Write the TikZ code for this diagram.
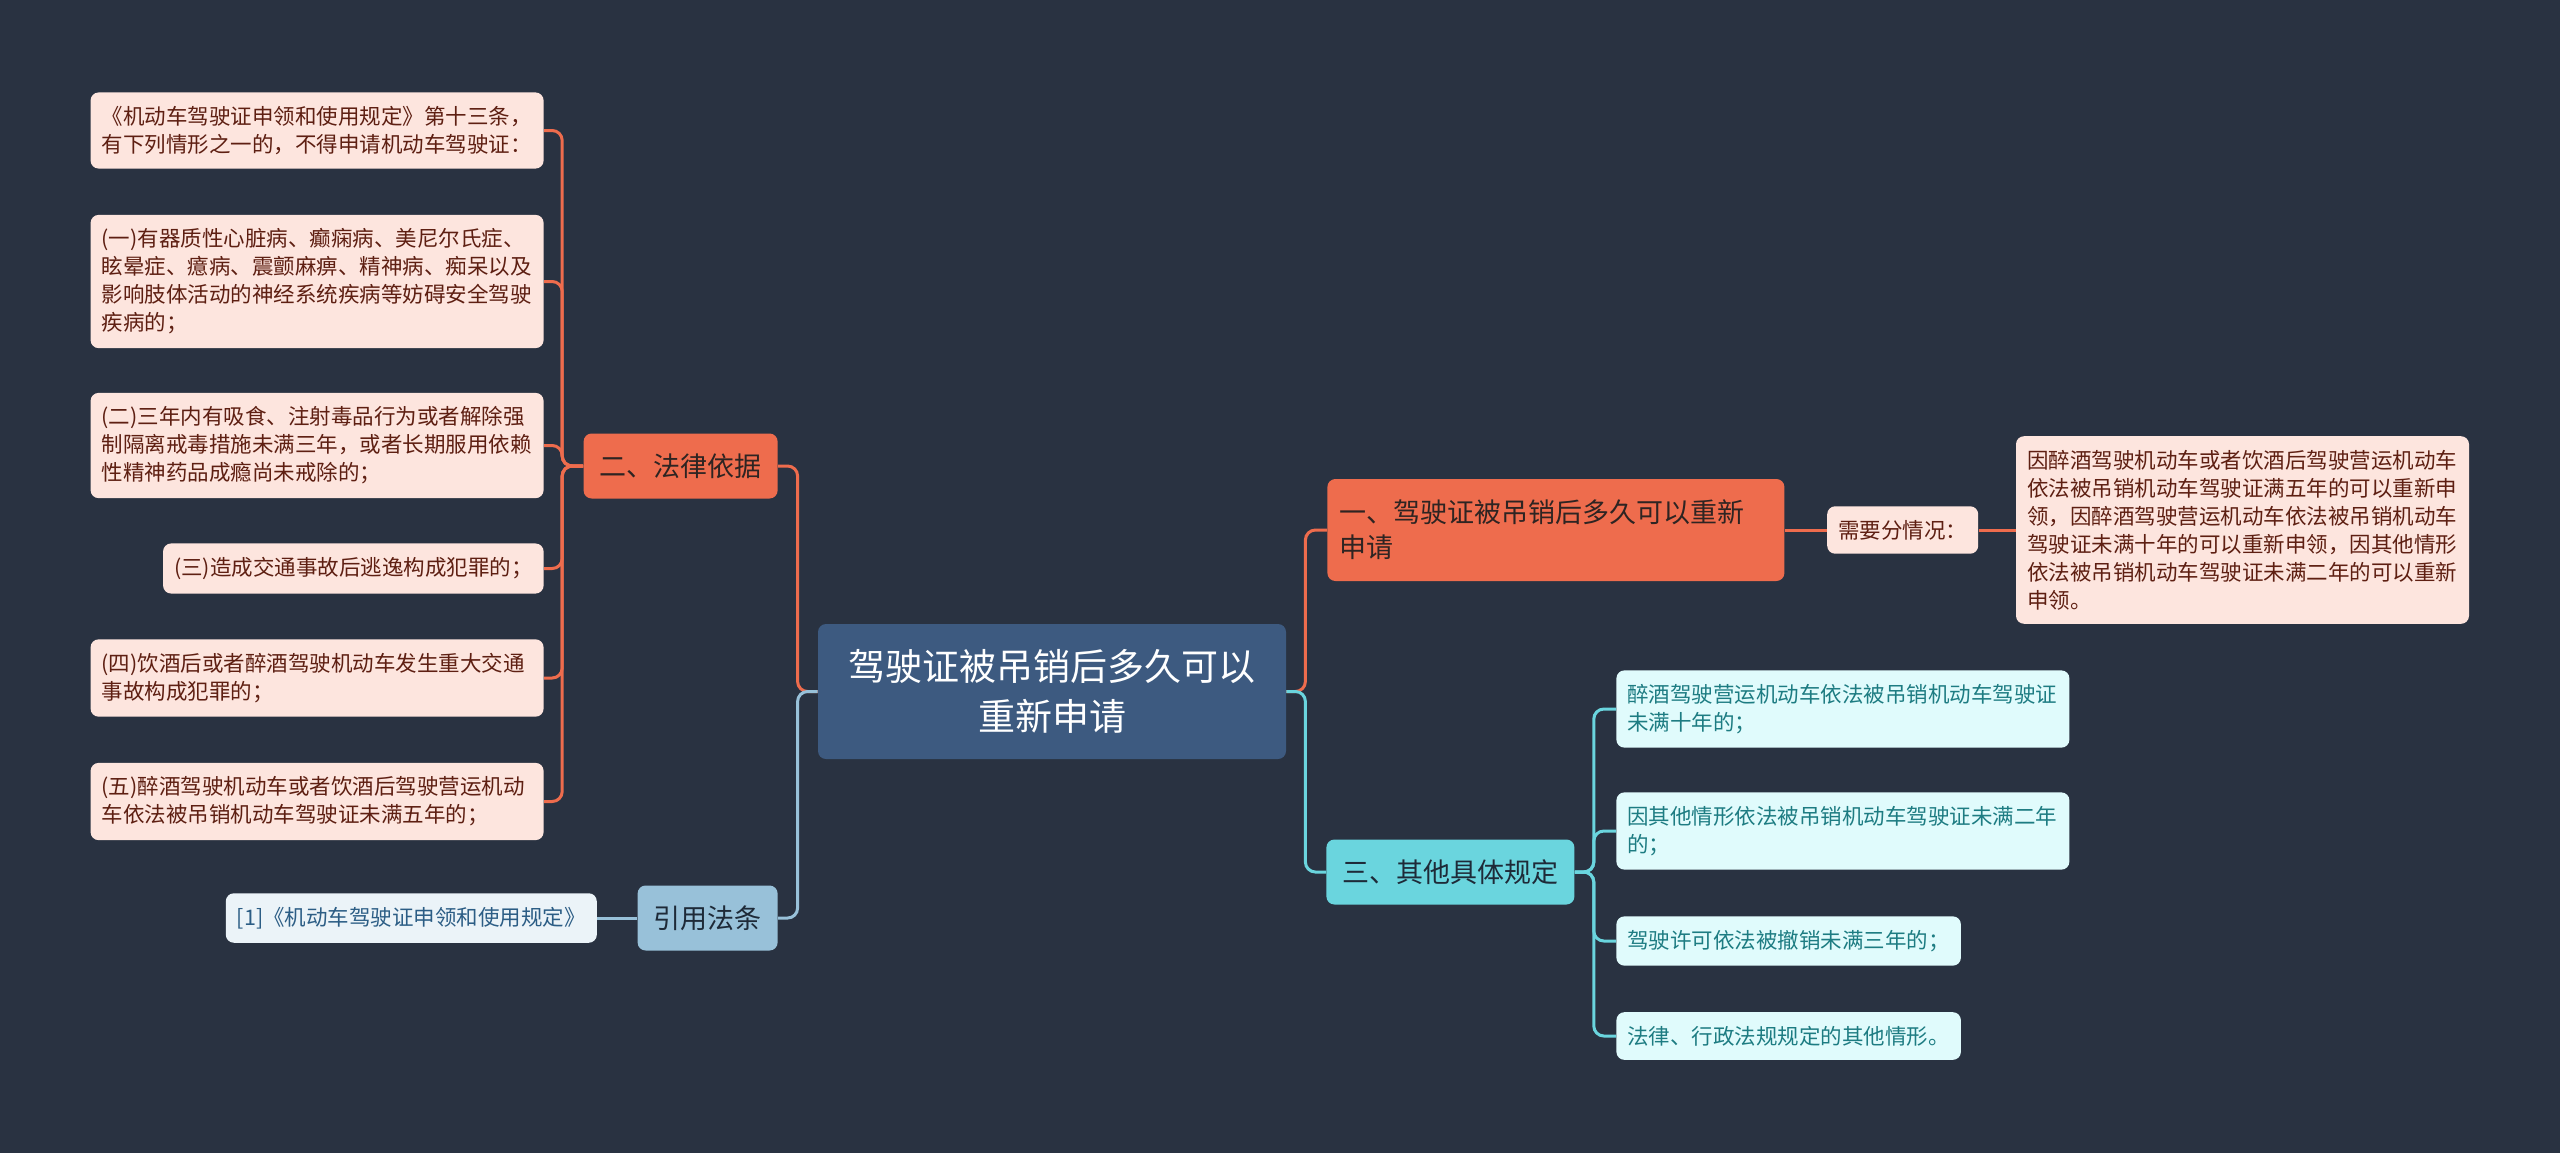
\documentclass[tikz,border=0pt]{standalone}
\usepackage{fontspec}
\setmainfont{Noto Sans CJK SC}
\usetikzlibrary{positioning}

\definecolor{BgNavy}{HTML}{293241}
\definecolor{RootBlue}{HTML}{3D5A80}
\definecolor{BranchOrange}{HTML}{EE6C4D}
\definecolor{BranchSky}{HTML}{98C1D9}
\definecolor{BranchCyan}{HTML}{6AD5DE}
\definecolor{LeafPink}{HTML}{FDE5DE}
\definecolor{LeafCyan}{HTML}{E0FBFC}
\definecolor{LeafSky}{HTML}{EBF3F8}
\definecolor{TextBrown}{HTML}{5E1F12}
\definecolor{TextTeal}{HTML}{1D7C82}
\definecolor{TextSky}{HTML}{2C5D85}
\definecolor{TextDark}{HTML}{2E2422}
\definecolor{TextNavy}{HTML}{1E2A38}

\begin{document}
\begin{tikzpicture}[x=0.5pt, y=-0.5pt,
                    ROOT/.style={rectangle, rounded corners=4pt, fill=RootBlue, text=white, minimum width=234pt, minimum height=67.5pt, align=center, font=\fontsize{18.5}{25}\selectfont},
                    TOPIC/.style={rectangle, rounded corners=4pt, inner xsep=8pt, minimum height=32.5pt, font=\fontsize{13.5}{17.5}\selectfont},
                    NOTE/.style={rectangle, rounded corners=4pt, inner xsep=5.5pt, inner ysep=6.9pt, align=left, font=\fontsize{10.75}{14}\selectfont},
                    WIDE/.style={text width=215.5pt},
                    HOTNOTE/.style={NOTE, fill=LeafPink, text=TextBrown},
                    COOLNOTE/.style={NOTE, fill=LeafCyan, text=TextTeal},
                    SKYNOTE/.style={NOTE, fill=LeafSky, text=TextSky},
                    HOTLINK/.style={draw=BranchOrange, line width=1.5pt, rounded corners=5pt},
                    COOLLINK/.style={draw=BranchCyan, line width=1.5pt, rounded corners=5pt},
                    SKYLINK/.style={draw=BranchSky, line width=1.5pt, rounded corners=5pt},
                ]
                \fill[BgNavy] (0,0) rectangle (2560,1153);

                \node[ROOT]    (Licence_Root)    at (1052,691.5) {驾驶证被吊销后多久可以\\重新申请};

                % left side
                \node[TOPIC, fill=BranchOrange, text=TextDark, anchor=east]    (Legal_Basis)    at (778,466) {二、法律依据};
                \node[TOPIC, fill=BranchSky, text=TextNavy, anchor=east]    (Cited_Law)    at (778,918) {引用法条};
                \node[SKYNOTE]    (Cited_Ref)    [left=20pt of Cited_Law] {[1]《机动车驾驶证申领和使用规定》};

                \node[HOTNOTE, WIDE, anchor=east]    (Basis_Intro)    at (544,130.5) {《机动车驾驶证申领和使用规定》第十三条，\\有下列情形之一的，不得申请机动车驾驶证：};
                \node[HOTNOTE, WIDE, anchor=east]    (Basis_1)    at (544,281.5) {(一)有器质性心脏病、癫痫病、美尼尔氏症、\\眩晕症、癔病、震颤麻痹、精神病、痴呆以及\\影响肢体活动的神经系统疾病等妨碍安全驾驶\\疾病的；};
                \node[HOTNOTE, WIDE, anchor=east]    (Basis_2)    at (544,445.5) {(二)三年内有吸食、注射毒品行为或者解除强\\制隔离戒毒措施未满三年，或者长期服用依赖\\性精神药品成瘾尚未戒除的；};
                \node[HOTNOTE, anchor=east]    (Basis_3)    at (544,568.5) {(三)造成交通事故后逃逸构成犯罪的；};
                \node[HOTNOTE, WIDE, anchor=east]    (Basis_4)    at (544,678) {(四)饮酒后或者醉酒驾驶机动车发生重大交通\\事故构成犯罪的；};
                \node[HOTNOTE, WIDE, anchor=east]    (Basis_5)    at (544,801.5) {(五)醉酒驾驶机动车或者饮酒后驾驶营运机动\\车依法被吊销机动车驾驶证未满五年的；};

                % right side
                \node[TOPIC, fill=BranchOrange, text=TextDark, anchor=west, text width=216.5pt, inner xsep=6pt, minimum height=51pt, align=left]    (Reapply_Time)    at (1327,530) {一、驾驶证被吊销后多久可以重新\\申请};
                \node[HOTNOTE]    (Case_Split)    [right=21pt of Reapply_Time] {需要分情况：};
                \node[HOTNOTE, WIDE]    (Case_Detail)    [right=18.5pt of Case_Split] {因醉酒驾驶机动车或者饮酒后驾驶营运机动车\\依法被吊销机动车驾驶证满五年的可以重新申\\领，因醉酒驾驶营运机动车依法被吊销机动车\\驾驶证未满十年的可以重新申领，因其他情形\\依法被吊销机动车驾驶证未满二年的可以重新\\申领。};

                \node[TOPIC, fill=BranchCyan, text=TextNavy, anchor=west]    (Other_Rules)    at (1326,872) {三、其他具体规定};
                \node[COOLNOTE, WIDE, anchor=west]    (Other_1)    at (1616,709) {醉酒驾驶营运机动车依法被吊销机动车驾驶证\\未满十年的；};
                \node[COOLNOTE, WIDE, anchor=west]    (Other_2)    at (1616,831) {因其他情形依法被吊销机动车驾驶证未满二年\\的；};
                \node[COOLNOTE, anchor=west]    (Other_3)    at (1616,941) {驾驶许可依法被撤销未满三年的；};
                \node[COOLNOTE, anchor=west]    (Other_4)    at (1616,1036) {法律、行政法规规定的其他情形。};

                % connectors
                \draw[HOTLINK] (Licence_Root.west) -- ++(-20,0) |- (Legal_Basis.east);
                \draw[SKYLINK] (Licence_Root.west) -- ++(-20,0) |- (Cited_Law.east);
                \draw[HOTLINK] (Licence_Root.east) -- ++(19,0) |- (Reapply_Time.west);
                \draw[COOLLINK] (Licence_Root.east) -- ++(19,0) |- (Other_Rules.west);

                \foreach \leaf in {Basis_Intro,Basis_1,Basis_2,Basis_3,Basis_4,Basis_5}
                    \draw[HOTLINK] (Legal_Basis.west) -- ++(-21,0) |- (\leaf.east);
                \foreach \leaf in {Other_1,Other_2,Other_3,Other_4}
                    \draw[COOLLINK] (Other_Rules.east) -- ++(19,0) |- (\leaf.west);

                \draw[SKYLINK] (Cited_Law) -- (Cited_Ref);
                \draw[HOTLINK] (Reapply_Time) -- (Case_Split);
                \draw[HOTLINK] (Case_Split) -- (Case_Detail);

            \end{tikzpicture}
\end{document}
